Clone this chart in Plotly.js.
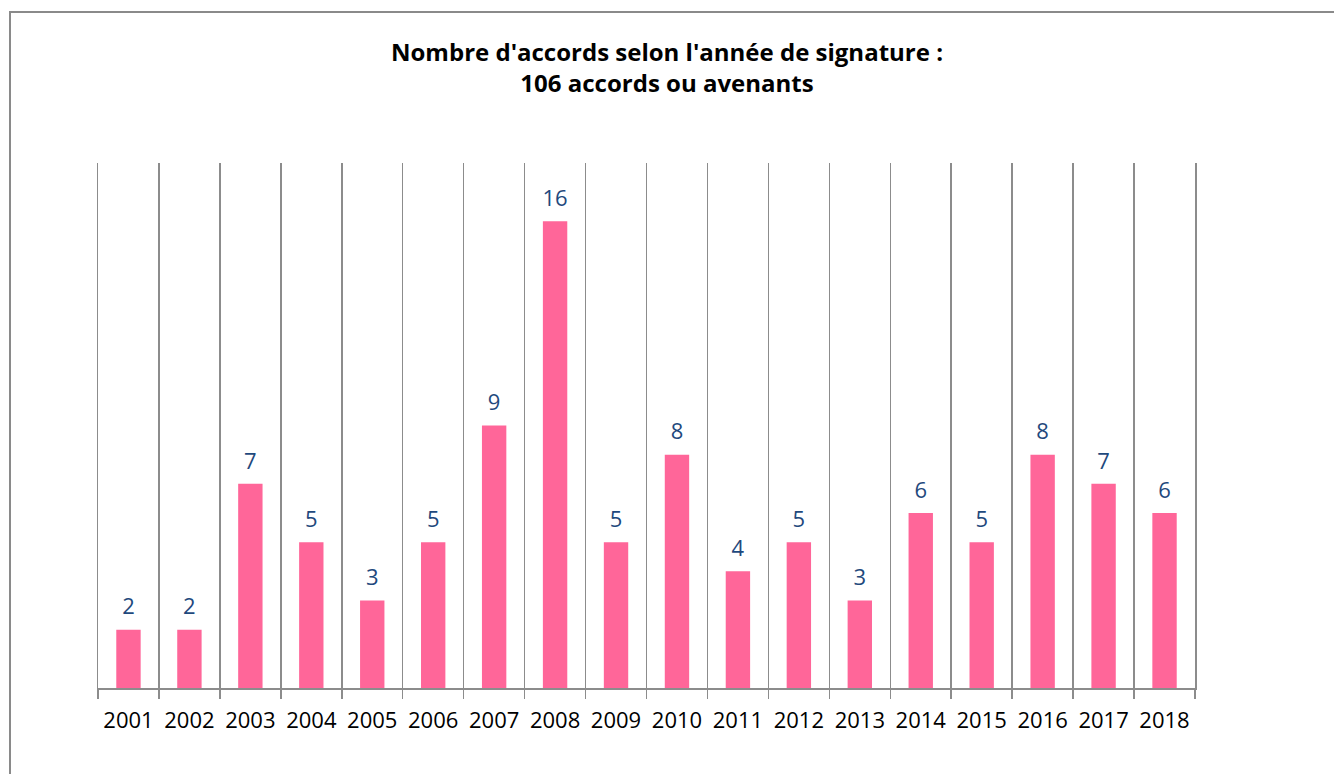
<!DOCTYPE html>
<html>
<head>
<meta charset="utf-8">
<script src="https://cdn.plot.ly/plotly-3.0.1.min.js"></script>
<style>
  html, body { margin: 0; padding: 0; background: #fff; overflow: hidden; }
  #frame { position: absolute; left: 9px; top: 11px; width: 1400px; height: 820px; border: 2px solid #8a8a8a; box-sizing: border-box; }
  #chart { position: absolute; left: 0; top: 0; width: 1334px; height: 774px; }
</style>
</head>
<body>
<div id="frame"></div>
<div id="chart"></div>
<script>
const years = ["2001","2002","2003","2004","2005","2006","2007","2008","2009","2010","2011","2012","2013","2014","2015","2016","2017","2018"];
const counts = [2,2,7,5,3,5,9,16,5,8,4,5,3,6,5,8,7,6];
const chartTitle = "Nombre d'accords selon l'année de signature :<br>106 accords ou avenants";

const gridColor = "#8c8c8c";

const bars = {
  type: "bar",
  x: years,
  y: counts,
  width: 0.4,
  marker: { color: "#FF6699" },
  hoverinfo: "x+y"
};

const labels = {
  type: "scatter",
  mode: "markers+text",
  x: years,
  y: counts,
  text: counts.map(String),
  textposition: "top center",
  textfont: { family: "Open Sans, sans-serif", size: 22, color: "#1F497D" },
  marker: { size: 14, color: "rgba(0,0,0,0)" },
  hoverinfo: "skip",
  cliponaxis: false
};

const layout = {
  width: 1334,
  height: 774,
  paper_bgcolor: "rgba(0,0,0,0)",
  plot_bgcolor: "rgba(0,0,0,0)",
  margin: { l: 98, r: 139, t: 163, b: 86 },
  title: {
    text: "<b>" + chartTitle + "</b>",
    x: 0.5,
    xanchor: "center",
    y: 0.921,
    yanchor: "middle",
    font: { family: "Open Sans, sans-serif", size: 24, color: "#000" }
  },
  xaxis: {
    type: "category",
    range: [-0.5, 17.5],
    tickson: "boundaries",
    tickangle: 0,
    showgrid: true,
    gridcolor: gridColor,
    gridwidth: 1.5,
    showline: true,
    linecolor: gridColor,
    linewidth: 1.5,
    ticks: "outside",
    ticklen: 9,
    tickwidth: 1.5,
    tickcolor: gridColor,
    ticklabelstandoff: 12,
    tickfont: { family: "Open Sans, sans-serif", size: 22, color: "#000" },
    fixedrange: true
  },
  yaxis: {
    range: [0, 18],
    showgrid: false,
    zeroline: false,
    showticklabels: false,
    showline: true,
    mirror: true,
    linecolor: gridColor,
    linewidth: 1.5,
    ticks: "",
    fixedrange: true
  },
  showlegend: false
};

Plotly.newPlot("chart", [bars, labels], layout, { displayModeBar: false, staticPlot: true });
</script>
</body>
</html>
